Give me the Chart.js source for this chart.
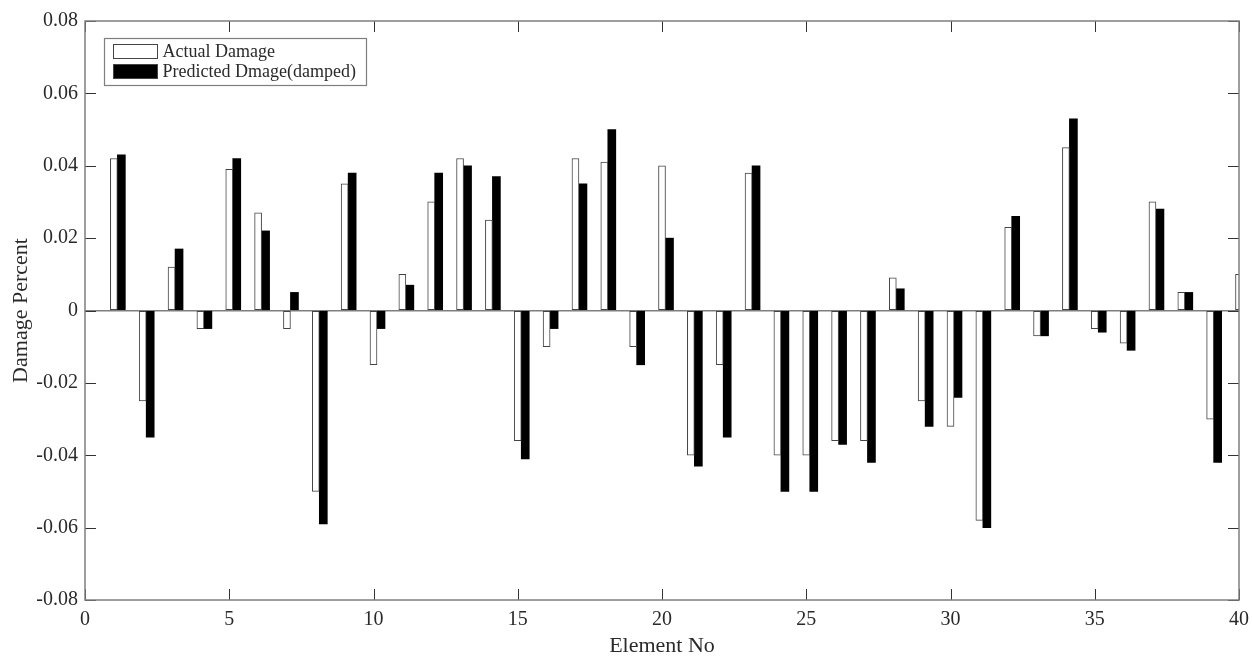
<!DOCTYPE html>
<html>
<head>
<meta charset="utf-8">
<title>Damage Percent</title>
<script src="https://cdn.jsdelivr.net/npm/chart.js@4.4.1/dist/chart.umd.min.js"></script>
<style>
	html, body { margin: 0; padding: 0; background: #fff; }
	#wrap { width: 1252px; height: 656px; position: relative; }
</style>
</head>
<body>
<div id="wrap"><canvas id="damage-graph"></canvas></div>
<script>
// element numbers along the x axis
const elements = [
	1, 2, 3, 4, 5, 6, 7, 8, 9, 10,
	11, 12, 13, 14, 15, 16, 17, 18, 19, 20,
	21, 22, 23, 24, 25, 26, 27, 28, 29, 30,
	31, 32, 33, 34, 35, 36, 37, 38, 39, 40,
];
const actualDamage = [
	0.042, -0.025, 0.012, -0.005, 0.039, 0.027, -0.005, -0.050, 0.035, -0.015,
	0.010, 0.030, 0.042, 0.025, -0.036, -0.010, 0.042, 0.041, -0.010, 0.040,
	-0.040, -0.015, 0.038, -0.040, -0.040, -0.036, -0.036, 0.009, -0.025, -0.032,
	-0.058, 0.023, -0.007, 0.045, -0.005, -0.009, 0.030, 0.005, -0.030, 0.010,
];
const predictedDamage = [
	0.043, -0.035, 0.017, -0.005, 0.042, 0.022, 0.005, -0.059, 0.038, -0.005,
	0.007, 0.038, 0.040, 0.037, -0.041, -0.005, 0.035, 0.050, -0.015, 0.020,
	-0.043, -0.035, 0.040, -0.050, -0.050, -0.037, -0.042, 0.006, -0.032, -0.024,
	-0.060, 0.026, -0.007, 0.053, -0.006, -0.011, 0.028, 0.005, -0.042, null,
];
const seriesLabels = ["Actual Damage", "Predicted Dmage(damped)"];
const yTicks = [-0.08, -0.06, -0.04, -0.02, 0, 0.02, 0.04, 0.06, 0.08];
const xTicks = [0, 5, 10, 15, 20, 25, 30, 35, 40];

const AXIS_GRAY = "#7f7f7f";
const TEXT = "#2a2a2a";
const SERIF = "'Liberation Serif', 'Times New Roman', serif";
// the black bar sits just right of the white one
const barShift = 0.26;

Chart.defaults.font.family = SERIF;
Chart.defaults.color = TEXT;

//------------utility functions----------
const toPoints = (values) => elements.map((e, i) => ({ x: e, y: values[i] }));
const fmtY = (v) => (Math.abs(v) < 1e-9 ? "0" : v.toFixed(2));
//---------------------------------------

// box around the plot with inward tick marks on all four sides
const axisBoxPlugin = {
	id: "axisBox",
	afterDraw: (chart) => {
		const { ctx, chartArea: a, scales } = chart;
		ctx.save();
		ctx.strokeStyle = "#333";
		ctx.lineWidth = 1;
		ctx.beginPath();
		xTicks.forEach((t) => {
			const px = Math.round(scales.x.getPixelForValue(t)) + 0.5;
			ctx.moveTo(px, a.bottom);
			ctx.lineTo(px, a.bottom - 11);
			ctx.moveTo(px, a.top);
			ctx.lineTo(px, a.top + 11);
		});
		yTicks.forEach((t) => {
			const py = Math.round(scales.y.getPixelForValue(t)) + 0.5;
			ctx.moveTo(a.left, py);
			ctx.lineTo(a.left + 11, py);
			ctx.moveTo(a.right, py);
			ctx.lineTo(a.right - 11, py);
		});
		ctx.stroke();
		ctx.strokeStyle = AXIS_GRAY;
		ctx.lineWidth = 1.5;
		ctx.strokeRect(a.left, a.top, a.right - a.left, a.bottom - a.top);
		ctx.restore();
	},
};

// legend drawn inside the top-left corner of the plot
const innerLegendPlugin = {
	id: "innerLegend",
	afterDatasetsDraw: (chart) => {
		const { ctx, chartArea: a } = chart;
		const bx = a.left + 19.5;
		const by = a.top + 17.5;
		ctx.save();
		ctx.fillStyle = "#fff";
		ctx.fillRect(bx, by, 262, 47);
		ctx.strokeStyle = AXIS_GRAY;
		ctx.lineWidth = 1.2;
		ctx.strokeRect(bx, by, 262, 47);
		chart.data.datasets.forEach((ds, i) => {
			const sy = by + 6 + i * 20;
			ctx.fillStyle = ds.backgroundColor;
			ctx.fillRect(bx + 9, sy, 44, 14);
			ctx.strokeStyle = "#444";
			ctx.lineWidth = 1;
			ctx.strokeRect(bx + 9, sy, 44, 14);
			ctx.fillStyle = TEXT;
			ctx.font = "18px " + SERIF;
			ctx.textBaseline = "middle";
			ctx.fillText(ds.label, bx + 58, sy + 7.5);
		});
		ctx.restore();
	},
};

const getConfig = () => {
	return {
		type: "bar",
		data: {
			datasets: [
				{
					label: seriesLabels[0],
					data: toPoints(actualDamage),
					xAxisID: "x",
					backgroundColor: "#ffffff",
					borderColor: "#444",
					borderWidth: 1,
					borderSkipped: false,
					barThickness: 7,
					grouped: false,
					clip: 0,
				},
				{
					label: seriesLabels[1],
					data: toPoints(predictedDamage),
					xAxisID: "x2",
					backgroundColor: "#000000",
					borderColor: "#000000",
					borderWidth: 0,
					barThickness: 8,
					grouped: false,
					clip: 0,
				},
			],
		},
		options: {
			responsive: true,
			maintainAspectRatio: false,
			animation: false,
			layout: {
				padding: { top: 21, right: 13, left: 0, bottom: 0 },
			},
			scales: {
				x: {
					type: "linear",
					min: 0,
					max: 40,
					offset: false,
					afterBuildTicks: (scale) => {
						scale.ticks = xTicks.map((v) => ({ value: v }));
					},
					afterFit: (scale) => {
						scale.height = 56;
						scale.paddingLeft = 0;
						scale.paddingRight = 0;
					},
					grid: { display: false, drawTicks: false },
					border: { display: false },
					ticks: {
						padding: 8,
						font: { size: 20 },
						color: TEXT,
						maxRotation: 0,
						callback: (v) => String(v),
					},
					title: {
						display: true,
						text: "Element No",
						font: { size: 22 },
						color: TEXT,
						padding: { top: 0, bottom: -3 },
					},
				},
				x2: {
					type: "linear",
					display: false,
					min: -barShift,
					max: 40 - barShift,
					offset: false,
					grid: { display: false },
				},
				y: {
					min: -0.08,
					max: 0.08,
					afterBuildTicks: (scale) => {
						scale.ticks = yTicks.map((v) => ({ value: v }));
					},
					afterFit: (scale) => {
						scale.width = 85;
					},
					grid: {
						drawTicks: false,
						lineWidth: 1.5,
						color: (c) => (c.tick && Math.abs(c.tick.value) < 1e-9 ? AXIS_GRAY : "rgba(0,0,0,0)"),
					},
					border: { display: false },
					ticks: {
						padding: 7,
						font: { size: 20 },
						color: TEXT,
						callback: (v) => fmtY(v),
					},
					title: {
						display: true,
						text: "Damage Percent",
						font: { size: 22 },
						color: TEXT,
						padding: { top: 8, bottom: 0 },
					},
				},
			},
			plugins: {
				legend: { display: false },
				tooltip: { enabled: false },
			},
		},
		plugins: [axisBoxPlugin, innerLegendPlugin],
	};
};

const damageGraph = new Chart(document.getElementById("damage-graph"), getConfig());
</script>
</body>
</html>
